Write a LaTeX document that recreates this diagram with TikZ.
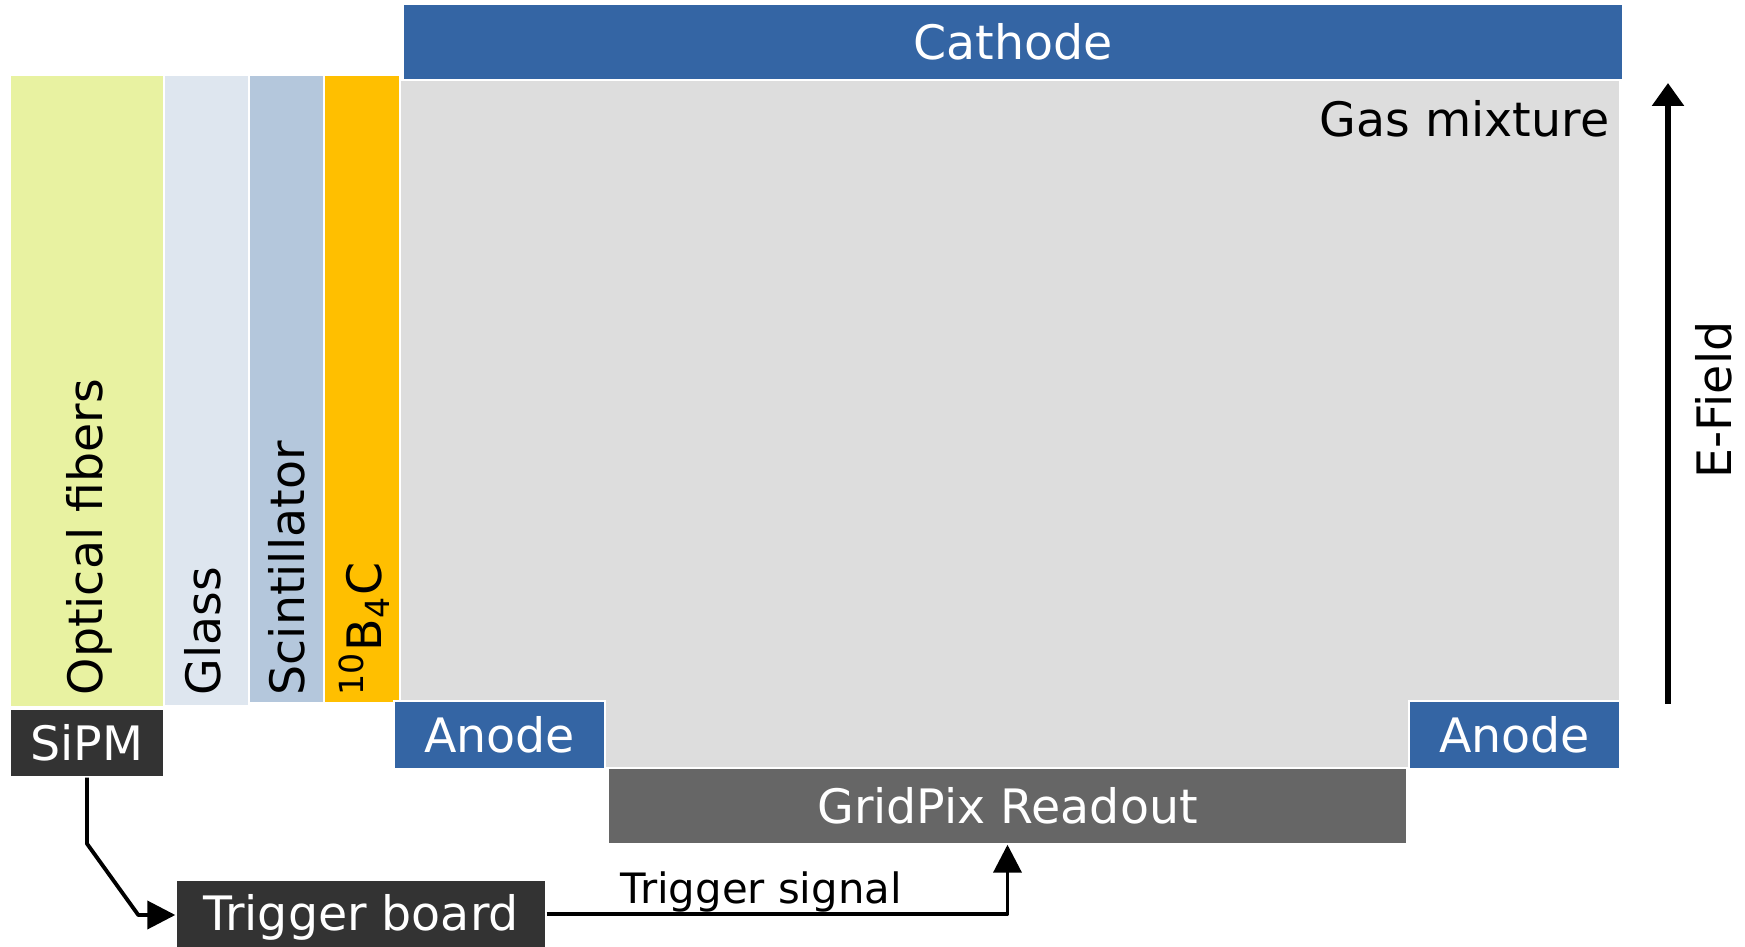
\documentclass[tikz,border=0pt]{standalone}
\usepackage{fontspec}
\setmainfont{DejaVu Sans}
\usetikzlibrary{arrows.meta,positioning,calc}
\definecolor{electrode}{HTML}{3465A4}
\definecolor{gasfill}{HTML}{DDDDDD}
\definecolor{fiberfill}{HTML}{E8F2A1}
\definecolor{glassfill}{HTML}{DEE6EF}
\definecolor{scintfill}{HTML}{B4C7DC}
\definecolor{boronfill}{HTML}{FFBF00}
\definecolor{readoutfill}{HTML}{666666}
\definecolor{darkfill}{HTML}{333333}

\begin{document}
\begin{tikzpicture}[
  font=\fontsize{13.5}{16}\selectfont,
  box/.style={
    fill=#1,
    draw=white,
    line width=0.4pt,
    inner sep=0pt
  },
  lbl/.style={
    inner sep=0pt,
    text=black
  },
  sig/.style={
    -{Triangle[length=0.28cm,width=0.28cm]},
    line width=1.1pt,
    line join=round
  },
  field/.style={
    -{Triangle[length=0.23cm,width=0.31cm]},
    line width=1.7pt
  }
]
\useasboundingbox (0,0) rectangle (17.45,9.46);

% --- Gas volume and cathode ---
\node[box=gasfill, minimum width=12.20cm, minimum height=6.88cm] (gas) at (10.10,5.22) {};
\node[box=electrode, text=white, minimum width=12.20cm, minimum height=0.76cm] (cathode) at (10.13,9.04) {Cathode};
\node[lbl, anchor=base east] (gaslbl) at (16.10,8.09) {Gas mixture};

% --- Converter stack (left) ---
\node[box=fiberfill, minimum width=1.54cm, minimum height=6.32cm] (fibers) at (0.87,5.55) {};
\node[box=glassfill, minimum width=0.85cm, minimum height=6.31cm] (glass) at (2.065,5.555) {};
\node[box=scintfill, minimum width=0.75cm, minimum height=6.28cm] (scint) at (2.865,5.57) {};
\node[box=boronfill, minimum width=0.76cm, minimum height=6.28cm] (boron) at (3.62,5.57) {};

\node[lbl, rotate=90, anchor=west] (fiberlbl) at (0.89,2.50) {Optical fibers};
\node[lbl, rotate=90, anchor=west] (glasslbl) at (2.03,2.50) {Glass};
\node[lbl, rotate=90, anchor=west] (scintlbl) at (2.87,2.50) {Scintillator};
\node[lbl, rotate=90, anchor=west] (boronlbl) at (3.64,2.50) {\textsuperscript{10}B\textsubscript{4}C};

% --- Anodes and readout (bottom) ---
\node[box=electrode, text=white, minimum width=2.11cm, minimum height=0.68cm] (anodeL) at (4.995,2.11) {Anode};
\node[box=electrode, text=white, minimum width=2.11cm, minimum height=0.68cm] (anodeR) at (15.145,2.11) {Anode};
\node[box=readoutfill, text=white, minimum width=7.99cm, minimum height=0.76cm] (gridpix) at (10.075,1.40) {GridPix Readout};

\node[box=darkfill, text=white, minimum width=1.54cm, minimum height=0.68cm] (sipm) at (0.87,2.03) {SiPM};
\node[box=darkfill, text=white, minimum width=3.70cm, minimum height=0.75cm] (trigger) at (3.61,0.285) {Trigger board};

% Trigger path
\draw[sig] (sipm.south) -- ++(0,-0.66) -- ($(trigger.west)+(-0.37,0.025)$) -- ($(trigger.west)+(0,0.025)$);
\draw[sig] ($(trigger.east)+(0,0.035)$) -| (gridpix.south);
\node[lbl, anchor=base west, font=\fontsize{11.9}{14}\selectfont] (siglbl) at (6.20,0.42) {Trigger signal};

% E-field
\coordinate (fieldlo) at (16.68,2.42);
\coordinate (fieldhi) at (16.68,8.63);
\draw[field] (fieldlo) -- (fieldhi);
\node[lbl, rotate=90] (efield) at (17.14,5.46) {E-Field};

\end{tikzpicture}
\end{document}
